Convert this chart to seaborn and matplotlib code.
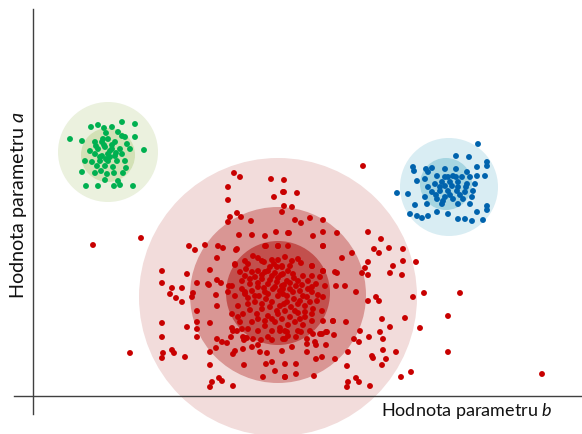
import matplotlib
matplotlib.use("Agg")
import matplotlib.pyplot as plt
from matplotlib.patches import Circle
import seaborn as sns
import pandas as pd

# point positions (screen coordinates, y grows downward)
green_x = [70, 91, 98, 104, 112, 122, 135, 106, 118, 122, 125, 135, 82, 95, 102, 108, 115, 127,
           90, 98, 105, 112, 120, 130, 144, 95, 102, 108, 115, 122, 85, 92, 100, 108, 117, 125,
           97, 105, 113, 126, 82, 95, 101, 107, 114, 123, 105, 118, 86, 98, 114, 120, 133,
           104, 110, 100, 106, 112, 96, 116, 103, 110]
green_y = [140, 128, 126, 129, 128, 123, 125, 134, 133, 137, 138, 138, 142, 143, 143, 140, 143, 145,
           152, 150, 148, 150, 150, 150, 151, 155, 157, 155, 157, 155, 162, 163, 162, 162, 162, 162,
           167, 167, 168, 169, 173, 174, 172, 175, 174, 174, 181, 182, 187, 187, 187, 186, 187,
           146, 152, 158, 160, 146, 147, 154, 140, 158]

blue_x = [478, 456, 469, 487, 487, 413, 414, 426, 428, 432, 445, 456, 477, 467, 485, 477, 417, 425,
          437, 445, 453, 462, 470, 428, 435, 442, 450, 458, 467, 475, 408, 397, 432, 440, 448, 457,
          465, 473, 425, 437, 445, 453, 463, 415, 427, 442, 458, 470, 487, 410, 417, 422, 428, 437,
          448, 458, 465, 472, 477, 483, 487, 445, 452, 458, 440, 448, 460, 436, 450, 443, 456, 466,
          472]
blue_y = [145, 157, 158, 163, 167, 168, 172, 170, 173, 169, 170, 170, 168, 173, 177, 177, 182, 180,
          177, 178, 177, 178, 178, 188, 185, 183, 183, 183, 185, 185, 195, 194, 193, 192, 192, 192,
          193, 192, 198, 200, 198, 200, 200, 206, 205, 205, 205, 205, 207, 215, 217, 219, 217, 213,
          215, 220, 220, 222, 213, 221, 211, 187, 187, 188, 188, 178, 196, 196, 196, 202, 178, 188,
          198]

red_x = [141, 234, 240, 271, 284, 228, 284, 228, 274, 284, 282, 237, 241, 230, 228, 251, 288, 239,
         252, 265, 276, 189, 195, 205, 218, 223, 236, 265, 278, 217, 162, 187, 210, 162, 172, 182,
         197, 208, 217, 221, 235, 229,
         363, 297, 283, 292, 295, 301, 310, 323, 289, 313, 323, 337, 368, 381, 323, 374, 379, 389,
         403, 352, 342, 368, 365, 362, 368, 393, 403, 416, 390, 402, 337, 336, 323, 312,
         170, 176, 182, 193, 192, 209, 216, 217, 197, 162, 197, 210, 187, 197, 162, 197, 172, 163,
         174, 162, 185, 210, 216, 217, 222, 227, 231, 210, 212, 210, 219, 222, 233, 130, 93,
         232, 237, 242, 244, 245, 247, 252, 258, 261, 272, 267, 272, 266, 275, 263, 285, 282, 285,
         235, 233, 244, 243, 260, 283, 280, 288,
         345, 356, 368, 376, 379, 413, 424, 460, 448, 405, 382, 346, 333, 360, 380, 390, 420, 334,
         354, 359, 369, 383, 348, 383, 372, 373, 386, 396, 448, 347, 382, 335, 322, 316, 326, 316,
         307, 307, 292, 296, 296, 285, 314, 348, 356, 359, 347, 370, 401, 411, 326, 322, 313, 301,
         287, 542,
         237, 266, 278, 253, 258, 245, 235, 248, 264, 272, 278, 270, 277, 282, 252, 258, 265, 240,
         245, 242, 255, 262, 272, 278, 232, 250, 258, 268, 275, 282, 228, 245, 265,
         288, 323, 285, 298, 301, 312, 282, 290, 323, 283, 293, 303, 312, 320, 335, 287, 298, 308,
         325, 312, 290, 300, 283,
         235, 245, 255, 268, 278, 238, 248, 262, 272, 280, 232, 243, 257, 268, 278, 240, 252, 265,
         275, 233, 248, 258, 272, 280, 243, 253,
         283, 293, 303, 312, 323, 287, 298, 310, 317, 285, 295, 305, 313, 322, 290, 300, 312, 323,
         333, 285, 298, 310, 320, 327, 307, 315,
         262, 268, 275, 281, 288, 294, 258, 264, 270, 277, 284, 290, 296, 302, 252, 259, 266, 273,
         280, 287, 294, 300, 307, 248, 255, 262, 270, 277, 284, 291, 298, 305, 250, 258, 265, 272,
         282, 288, 295, 303, 242, 246, 308, 316, 318, 238, 250, 274, 292, 268, 285, 296, 262, 305,
         312]
red_y = [239, 174, 178, 180, 181, 188, 193, 201, 198, 207, 213, 214, 218, 218, 223, 222, 234, 236,
         236, 237, 233, 247, 251, 246, 247, 249, 251, 247, 247, 259, 272, 275, 271, 284, 289, 289,
         284, 285, 281, 284, 266, 287,
         167, 194, 193, 208, 221, 224, 219, 221, 234, 237, 233, 234, 233, 240, 247, 250, 254, 249,
         250, 254, 259, 263, 269, 274, 276, 267, 262, 263, 274, 276, 274, 287, 272, 267,
         295, 299, 303, 294, 298, 286, 296, 307, 312, 324, 323, 324, 328, 330, 338, 338, 351, 354,
         354, 359, 358, 353, 349, 340, 343, 344, 338, 366, 383, 388, 379, 382, 387, 354, 246,
         329, 332, 330, 341, 339, 339, 348, 346, 341, 341, 354, 363, 365, 372, 378, 378, 352, 365,
         352, 355, 366, 350, 353, 340, 332, 337,
         287, 293, 302, 298, 302, 298, 294, 294, 317, 319, 320, 323, 322, 332, 333, 328, 329, 336,
         340, 343, 338, 340, 353, 351, 357, 359, 360, 353, 353, 367, 366, 360, 358, 360, 346, 346,
         345, 353, 348, 365, 375, 378, 377, 383, 379, 383, 388, 387, 378, 373, 333, 335, 335, 333,
         333, 375,
         250, 247, 247, 257, 259, 262, 265, 265, 263, 261, 261, 268, 268, 267, 273, 272, 273, 273,
         277, 282, 278, 280, 277, 279, 287, 285, 288, 285, 288, 287, 293, 293, 293,
         247, 247, 258, 260, 264, 267, 268, 267, 272, 275, 275, 277, 277, 278, 273, 282, 282, 282,
         287, 288, 290, 292, 290,
         297, 295, 297, 295, 297, 307, 305, 305, 303, 307, 315, 315, 315, 317, 315, 323, 323, 322,
         323, 332, 330, 332, 332, 329, 338, 340,
         295, 293, 297, 293, 298, 303, 305, 303, 302, 312, 312, 313, 310, 312, 318, 320, 322, 322,
         322, 332, 332, 332, 335, 333, 340, 343,
         276, 272, 274, 276, 272, 279, 284, 289, 281, 283, 286, 284, 287, 286, 292, 297, 300, 290,
         292, 297, 300, 302, 298, 299, 303, 310, 308, 312, 305, 308, 314, 307, 311, 320, 327, 320,
         320, 326, 323, 326, 290, 270, 290, 285, 296, 318, 280, 265, 262, 338, 340, 338, 262, 318,
         315]

# circles: centre x, centre y, radius (screen px)
ring_x = [108, 108, 449, 446, 278, 278, 278]
ring_y = [153, 156, 188, 185, 298, 296, 294]
ring_r = [50, 27, 49, 26, 139, 88, 52]
ring_colors = ["#ebf1de", "#d3e1b6", "#d9edf3", "#a6d5e1", "#f2dcdb", "#d99694", "#c2504d"]

df = pd.concat([
    pd.DataFrame({"x": green_x, "y": green_y, "group": "green"}),
    pd.DataFrame({"x": blue_x, "y": blue_y, "group": "blue"}),
    pd.DataFrame({"x": red_x, "y": red_y, "group": "red"}),
])
palette = {"green": "#00b050", "blue": "#0063ad", "red": "#c80000"}

sns.set_style("white")
plt.rcParams["font.family"] = ["Lato", "DejaVu Sans"]
plt.rcParams["mathtext.fontset"] = "custom"
plt.rcParams["mathtext.it"] = "Lato:italic"
plt.rcParams["mathtext.rm"] = "Lato"

fig = plt.figure(figsize=(5.82, 4.35), dpi=100)
ax = fig.add_axes([0, 0, 1, 1])

for cx, cy, r, c in zip(ring_x, ring_y, ring_r, ring_colors):
    ax.add_patch(Circle((cx, cy), r, facecolor=c, edgecolor="none", zorder=0.5))

sns.scatterplot(data=df, x="x", y="y", hue="group", palette=palette, s=18,
                linewidth=0, legend=False, ax=ax, zorder=2)

ax.set_xlim(0, 582)
ax.set_ylim(435, 0)
ax.set_xticks([])
ax.set_yticks([])
ax.set_xlabel("")
ax.set_ylabel("")
for side in ["top", "right"]:
    ax.spines[side].set_visible(False)
ax.spines["left"].set_position(("data", 33))
ax.spines["left"].set_bounds(10, 415)
ax.spines["bottom"].set_position(("data", 397))
ax.spines["bottom"].set_bounds(14, 582)
for side in ["left", "bottom"]:
    ax.spines[side].set_color("#404040")
    ax.spines[side].set_linewidth(1.0)
    ax.spines[side].set_zorder(3)

ax.text(553, 411, r"Hodnota parametru $b$", ha="right", va="center", fontsize=13,
        color="#111111")
ax.text(19, 205, r"Hodnota parametru $a$", ha="center", va="center", rotation=90,
        fontsize=14.2, color="#111111")

fig.savefig("out.png", dpi=100)
